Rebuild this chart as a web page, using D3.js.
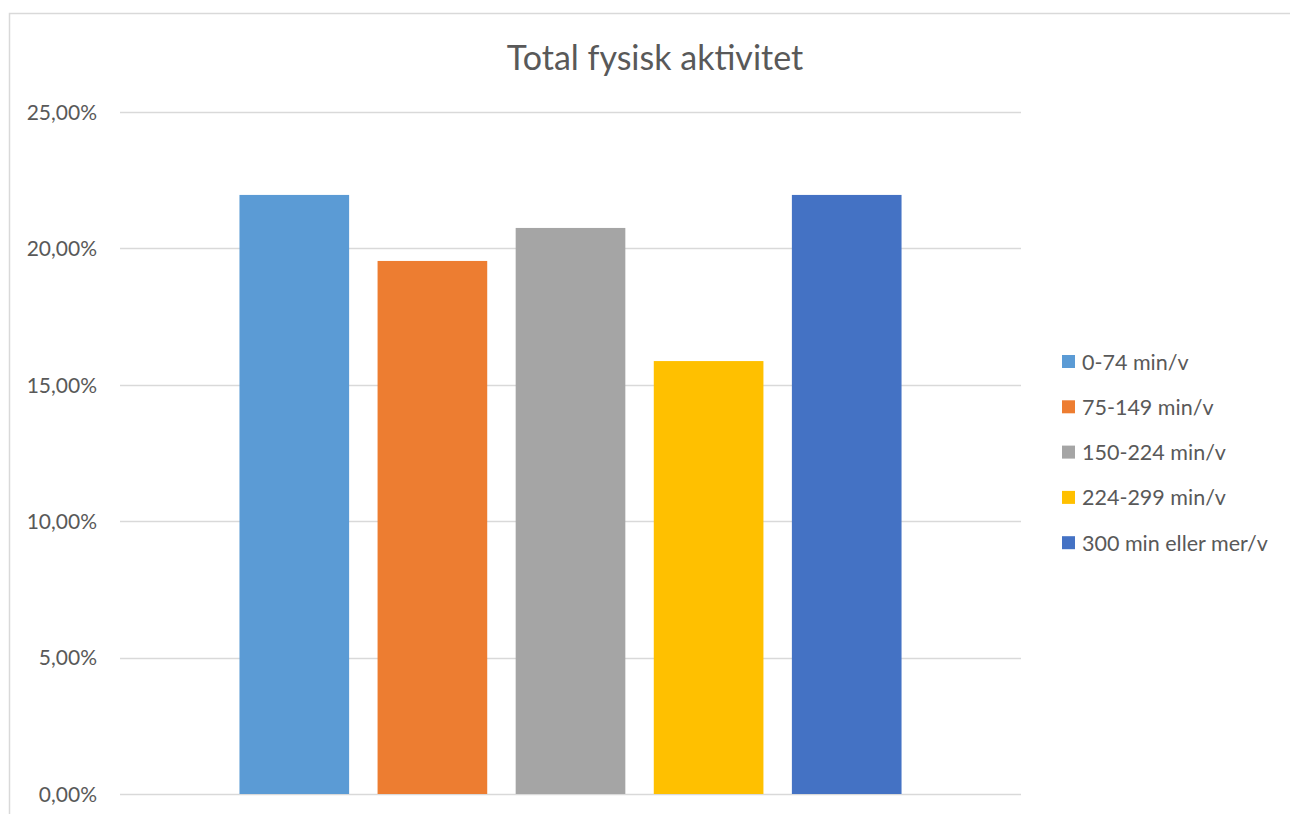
<!DOCTYPE html>
<html>
<head>
<meta charset="utf-8">
<script src="https://cdn.jsdelivr.net/npm/d3@7"></script>
<style>
  html, body { margin: 0; padding: 0; background: #fff; }
  svg { display: block; }
</style>
</head>
<body>
<svg id="chart" width="1290" height="814"></svg>
<script>
// Share of respondents by weekly minutes of physical activity
const series = ["0-74 min/v", "75-149 min/v", "150-224 min/v", "224-299 min/v", "300 min eller mer/v"];
const values = [0.2196, 0.1954, 0.2075, 0.1587, 0.2196];
const colors = ["#5B9BD5", "#ED7D31", "#A5A5A5", "#FFC000", "#4472C4"];
const yTicks = [0, 0.05, 0.10, 0.15, 0.20, 0.25];
const title = "Total fysisk aktivitet";

const font = "Lato, 'Open Sans', sans-serif";
const textColor = "#595959";

const svg = d3.select("#chart");

// chart frame
svg.append("rect")
  .attr("x", 9.5).attr("y", 13.5)
  .attr("width", 1300).attr("height", 820)
  .attr("fill", "#fff")
  .attr("stroke", "#d9d9d9").attr("stroke-width", 1.5);

const plot = { left: 120, right: 1021, top: 112, bottom: 794 };

const y = d3.scaleLinear().domain([0, 0.25]).range([plot.bottom, plot.top]);
const x = d3.scaleBand()
  .domain(series)
  .range([plot.left, plot.right])
  .paddingInner(0.206)
  .paddingOuter(0.865);

const fmt = v => d3.format(".2f")(v * 100).replace(".", ",") + "%";

// gridlines
svg.append("g")
  .selectAll("line")
  .data(yTicks)
  .join("line")
  .attr("x1", plot.left).attr("x2", plot.right)
  .attr("y1", d => Math.round(y(d)) + 0.5)
  .attr("y2", d => Math.round(y(d)) + 0.5)
  .attr("stroke", "#d9d9d9").attr("stroke-width", 1.5);

// y axis labels
const yAxis = d3.axisLeft(y).tickValues(yTicks).tickFormat(fmt).tickSize(0).tickPadding(0);
const gy = svg.append("g").attr("transform", `translate(97,0)`).call(yAxis);
gy.select(".domain").remove();
gy.selectAll("text")
  .attr("font-family", font).attr("font-size", 21)
  .attr("fill", textColor)
  .attr("dy", "0.35em");

// bars
svg.append("g")
  .selectAll("rect")
  .data(series)
  .join("rect")
  .attr("x", d => x(d))
  .attr("width", x.bandwidth())
  .attr("y", (d, i) => y(values[i]))
  .attr("height", (d, i) => y(0) - y(values[i]))
  .attr("fill", (d, i) => colors[i]);

// title
svg.append("text")
  .attr("x", 655).attr("y", 70)
  .attr("text-anchor", "middle")
  .attr("font-family", font).attr("font-size", 34)
  .attr("fill", textColor)
  .text(title);

// legend
const legend = svg.append("g").attr("transform", "translate(1062,362)");
const items = legend.selectAll("g")
  .data(series)
  .join("g")
  .attr("transform", (d, i) => `translate(0,${i * 45.3})`);
items.append("rect")
  .attr("x", 0).attr("y", -7)
  .attr("width", 13).attr("height", 13)
  .attr("fill", (d, i) => colors[i]);
items.append("text")
  .attr("x", 20).attr("y", 0)
  .attr("dy", "0.35em")
  .attr("font-family", font).attr("font-size", 21.5)
  .attr("fill", textColor)
  .text(d => d);
</script>
</body>
</html>
